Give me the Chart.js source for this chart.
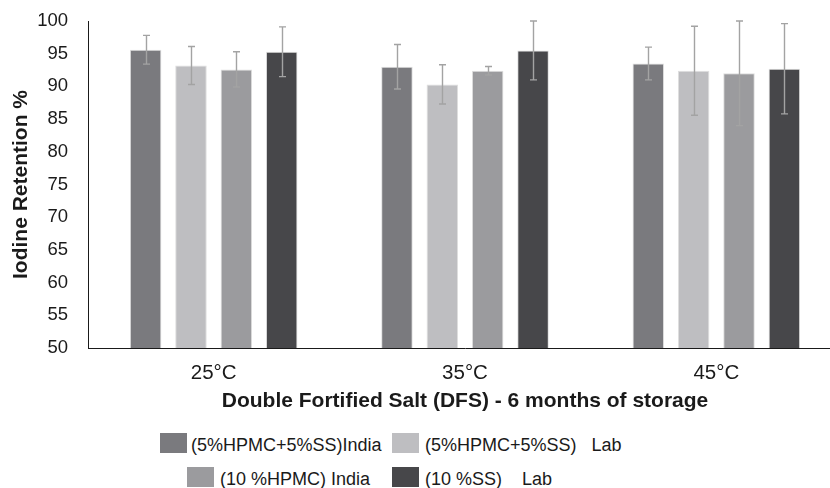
<!DOCTYPE html>
<html>
<head>
<meta charset="utf-8">
<script src="https://cdn.jsdelivr.net/npm/chart.js@4/dist/chart.umd.min.js"></script>
<style>
  html, body { margin: 0; padding: 0; background: #fff; }
  #wrap { position: relative; width: 830px; height: 488px; overflow: hidden; background: #fff; }
  #c { position: absolute; left: 0; top: 0; }
  .lg-box { position: absolute; width: 27px; height: 20px; }
  .lg-txt { position: absolute; font: 18px "Liberation Sans", Arial, sans-serif; line-height: 20px; color: #1a1a1a; white-space: pre; }
</style>
</head>
<body>
<div id="wrap">
  <canvas id="c" width="846" height="420"></canvas>
  <div id="legend"></div>
</div>
<script>
// ---- data ----
const categories = ['25°C', '35°C', '45°C'];
const seriesNames = ['(5%HPMC+5%SS)India', '(5%HPMC+5%SS)   Lab', '(10 %HPMC) India', '(10 %SS)    Lab'];
const s1Values = [95.6, 93.0, 93.5];
const s2Values = [93.2, 90.3, 92.4];
const s3Values = [92.6, 92.4, 92.0];
const s4Values = [95.3, 95.5, 92.7];
const s1Errors = [2.2, 3.4, 2.5];
const s2Errors = [2.9, 3.0, 6.8];
const s3Errors = [2.7, 0.65, 8.0];
const s4Errors = [3.8, 4.5, 6.9];
const yTicks = [50, 55, 60, 65, 70, 75, 80, 85, 90, 95, 100];
const yTitle = 'Iodine Retention %';
const xTitle = 'Double Fortified Salt (DFS) - 6 months of storage';

const colors = ['#7a7a7e', '#bebec1', '#9b9b9e', '#47474a'];
const values = [s1Values, s2Values, s3Values, s4Values];
const errors = [s1Errors, s2Errors, s3Errors, s4Errors];
const FONT = '"Liberation Sans", Arial, sans-serif';

const errorBarPlugin = {
  id: 'errorBars',
  afterDatasetsDraw(chart) {
    const ctx = chart.ctx;
    const yScale = chart.scales.y;
    ctx.save();
    ctx.strokeStyle = '#a3a3a3';
    ctx.lineWidth = 1.4;
    chart.data.datasets.forEach((ds, di) => {
      const meta = chart.getDatasetMeta(di);
      meta.data.forEach((bar, i) => {
        const v = ds.data[i];
        const e = ds.errors[i];
        const x = Math.round(bar.x) + 0.5;
        const yT = yScale.getPixelForValue(v + e);
        const yB = yScale.getPixelForValue(v - e);
        ctx.beginPath();
        ctx.moveTo(x, yT); ctx.lineTo(x, yB);
        ctx.moveTo(x - 3.5, yT); ctx.lineTo(x + 3.5, yT);
        ctx.moveTo(x - 3.5, yB); ctx.lineTo(x + 3.5, yB);
        ctx.stroke();
      });
    });
    ctx.restore();
  }
};

new Chart(document.getElementById('c'), {
  type: 'bar',
  data: {
    labels: categories,
    datasets: values.map((v, i) => ({
      label: seriesNames[i],
      data: v,
      errors: errors[i],
      backgroundColor: colors[i],
      borderColor: '#dedede',
      borderWidth: {top: 1, left: 1, right: 1, bottom: 0},
      categoryPercentage: 0.722,
      barPercentage: 0.695
    }))
  },
  options: {
    responsive: false,
    animation: false,
    devicePixelRatio: 1,
    layout: { padding: { top: 21, right: 4, left: 0, bottom: 0 } },
    plugins: { legend: { display: false }, tooltip: { enabled: false } },
    scales: {
      x: {
        grid: { display: false, drawTicks: false },
        border: { display: true, color: '#1a1a1a', width: 1 },
        ticks: { color: '#1a1a1a', font: { family: FONT, size: 20.5 }, padding: 13 },
        title: { display: true, text: xTitle, color: '#1a1a1a', font: { family: FONT, size: 21, weight: 'bold' }, padding: { top: 0, bottom: 5.7 } },
        afterFit(scale) { scale.height = 72; }
      },
      y: {
        min: 50, max: 100,
        grid: { display: false, drawTicks: true, tickLength: 20 },
        border: { display: true, color: '#1a1a1a', width: 1 },
        afterBuildTicks(scale) { scale.ticks = yTicks.map(v => ({ value: v })); },
        ticks: { color: '#1a1a1a', font: { family: FONT, size: 18.5 }, padding: 0 },
        title: { display: true, text: yTitle, color: '#1a1a1a', font: { family: FONT, size: 21, weight: 'bold' }, padding: { top: 8.7, bottom: 0 } },
        afterFit(scale) { scale.width = 88; }
      }
    }
  },
  plugins: [errorBarPlugin]
});

// ---- legend (HTML, real text) ----
const legendLayout = [
  { box: [160, 433], text: [191, 435] },
  { box: [392, 433], text: [425, 435] },
  { box: [187, 467], text: [220, 469] },
  { box: [392, 467], text: [425, 469] }
];
const lg = document.getElementById('legend');
seriesNames.forEach((name, i) => {
  const L = legendLayout[i];
  const b = document.createElement('div');
  b.className = 'lg-box';
  b.style.left = L.box[0] + 'px'; b.style.top = L.box[1] + 'px';
  b.style.background = colors[i];
  lg.appendChild(b);
  const t = document.createElement('div');
  t.className = 'lg-txt';
  t.style.left = L.text[0] + 'px'; t.style.top = L.text[1] + 'px';
  t.textContent = name;
  lg.appendChild(t);
});
</script>
</body>
</html>
